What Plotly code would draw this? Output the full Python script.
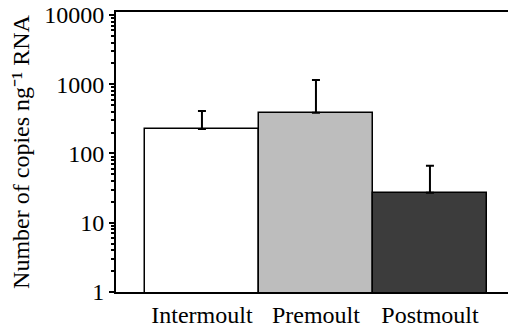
import plotly.graph_objects as go

categories = ["Intermoult", "Premoult", "Postmoult"]
means = [226, 388, 27.2]
err_up = [185, 764, 39.4]
bar_colors = ["#ffffff", "#bdbdbd", "#3c3c3c"]
ytick_vals = [1, 10, 100, 1000, 10000]
ytick_text = ["1", "10", "100", "1000", "10000"]
minor_vals = [k * 10 ** d for d in range(4) for k in range(2, 10)]

fig = go.Figure()
fig.add_trace(go.Bar(
    x=categories, y=means,
    marker=dict(color=bar_colors, line=dict(color="black", width=1.5)),
    error_y=dict(type="data", symmetric=False, array=err_up,
                 arrayminus=[0, 0, 0], color="black", thickness=2, width=4),
    width=1,
))
# invisible helper traces so the tick-only overlay axes are always drawn
for ax in ["y2", "y3", "y4"]:
    fig.add_trace(go.Scatter(x=categories, y=means, yaxis=ax, mode="markers",
                             marker=dict(opacity=0), hoverinfo="skip", showlegend=False))

font = dict(family="Liberation Serif, Times New Roman, serif", size=24, color="black")
yr = [0, 4.043]


def tick_axis(side, vals, length, width):
    return dict(type="log", range=yr, overlaying="y", side=side, anchor="x",
                tickmode="array", tickvals=vals, showticklabels=False,
                ticks="outside", ticklen=length, tickwidth=width, tickcolor="black",
                showgrid=False, zeroline=False, showline=False, automargin=False)


fig.update_layout(
    width=508, height=321,
    margin=dict(l=108, r=5, t=4, b=37),
    paper_bgcolor="white", plot_bgcolor="white",
    font=font, showlegend=False, bargap=0,
    xaxis=dict(range=[-0.754, 2.711], showline=True, linecolor="black", linewidth=2,
               mirror=True, ticks="", showgrid=False, tickfont=font, automargin=False),
    yaxis=dict(type="log", range=yr, showline=True, linecolor="black", linewidth=2,
               mirror=True, ticks="outside", ticklen=5, tickwidth=2, tickcolor="black",
               tickmode="array", tickvals=ytick_vals, ticktext=ytick_text, showgrid=False,
               tickfont=font, automargin=False, ticklabeloverflow="allow",
               title=dict(text="Number of copies ng\u207b\u00b9 RNA", font=font, standoff=10)),
    yaxis2=tick_axis("left", minor_vals, 4, 1.5),
    yaxis3=tick_axis("right", ytick_vals, 4, 2),
    yaxis4=tick_axis("right", minor_vals, 3, 1.5),
)
fig.write_html("out.html")
